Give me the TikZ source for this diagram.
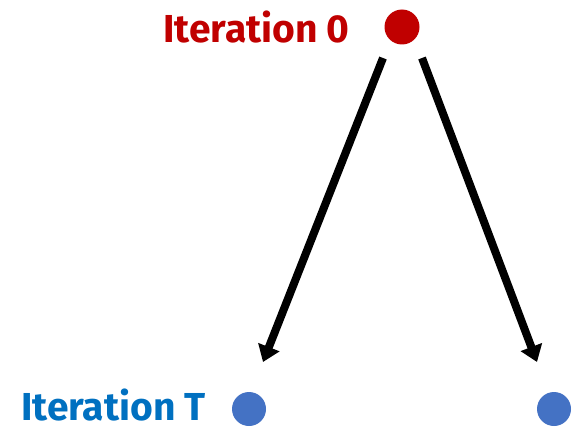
\documentclass[tikz,border=0pt]{standalone}
\usepackage{fontspec}
\setmainfont{Fira Sans}
\usetikzlibrary{arrows.meta}
\definecolor{itred}{HTML}{C00000}
\definecolor{ittext}{HTML}{0070C0}
\definecolor{itdot}{HTML}{4472C4}
\tikzset{
  lbl/.style={inner sep=0pt, font=\fontsize{39}{39}\selectfont\bfseries, anchor=base east},
  reddot/.style={circle, fill=itred, minimum size=35pt, inner sep=0pt},
  bluedot/.style={circle, fill=itdot, minimum size=34pt, inner sep=0pt},
  arr/.style={line width=8pt, -{Triangle[length=16pt,width=22pt]}}
}
\begin{document}
\begin{tikzpicture}[x=1pt,y=-1pt]
\useasboundingbox (0,0) rectangle (572,428);
\node[lbl, text=itred] (t0) at (350,42) {Iteration 0};
\node[reddot] (r) at (402,27) {};
\node[lbl, text=ittext] (tT) at (206,420) {Iteration T};
\node[bluedot] (b1) at (249,409) {};
\node[bluedot] (b2) at (554,409) {};
\coordinate (s1) at (383,58);
\coordinate (s2) at (422,58);
\coordinate (e1) at (263,362);
\coordinate (e2) at (537,362);
\draw[arr] (s1) -- (e1);
\draw[arr] (s2) -- (e2);
\end{tikzpicture}
\end{document}
